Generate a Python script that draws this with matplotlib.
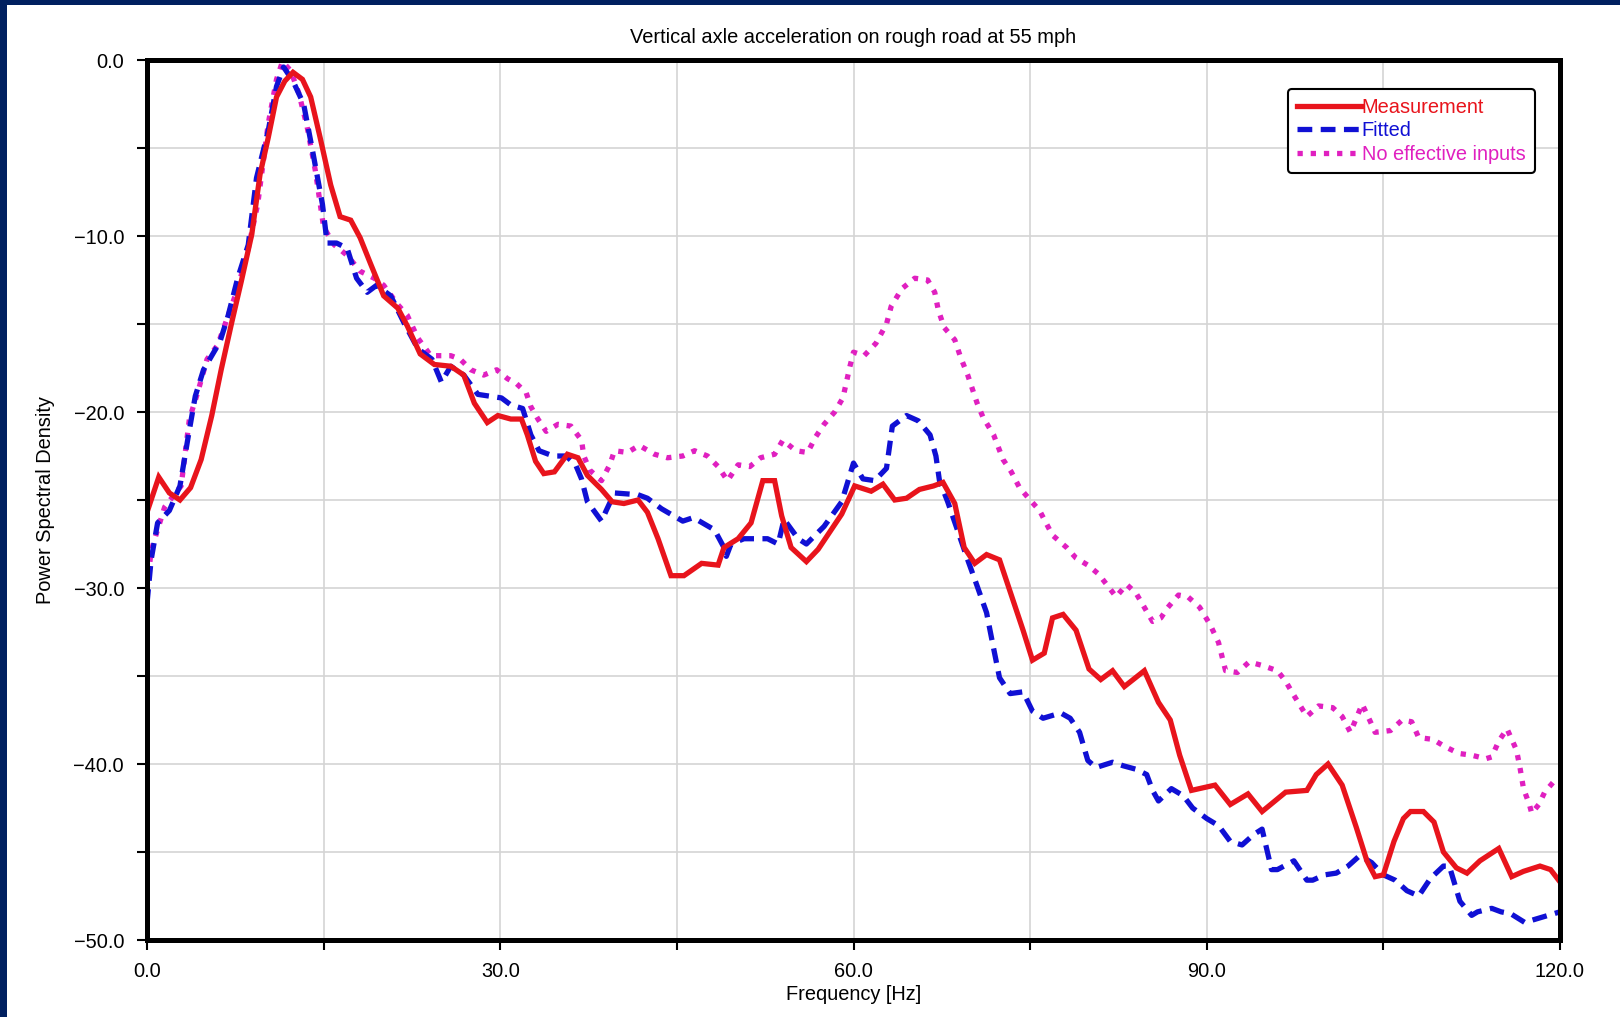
import numpy as np
import matplotlib
matplotlib.use("Agg")
import matplotlib.pyplot as plt
from matplotlib.patches import Rectangle
from matplotlib.ticker import MultipleLocator, FuncFormatter

# PSD curves (frequency in Hz, PSD in dB)
freq_meas = [0, 1.0, 1.9, 2.8, 3.7, 4.6, 5.5, 6.3, 7.2, 8.0, 8.9, 9.6, 10.3, 11.0, 11.7, 12.4,
             13.2, 13.9, 14.7, 15.6, 16.4, 17.3, 18.1, 19.0, 20.1, 21.3, 22.1, 23.2, 24.4, 25.8,
             26.9, 27.8, 28.9, 29.8, 30.9, 31.8, 32.3, 33.0, 33.7, 34.6, 35.7, 36.6, 37.4, 38.6,
             39.5, 40.5, 41.7, 42.5, 43.4, 44.5, 45.6, 47.1, 48.5, 49.0, 50.2, 51.3, 52.3, 53.3,
             53.9, 54.7, 56.0, 57.0, 59.0, 60.1, 61.5, 62.5, 63.5, 64.5, 65.6, 66.8, 67.6, 68.6,
             69.4, 70.3, 71.3, 72.4, 73.4, 74.4, 75.2, 76.2, 76.9, 77.8, 78.9, 80.0, 81.0, 82.0,
             83.0, 84.7, 85.9, 86.9, 87.7, 88.7, 90.7, 92.0, 93.5, 94.7, 96.7, 98.5, 99.3, 100.3,
             101.5, 102.7, 103.6, 104.3, 105.0, 105.9, 106.7, 107.3, 108.4, 109.3, 110.1, 111.2,
             112.1, 113.2, 114.8, 115.9, 116.9, 118.3, 119.2, 120.0]
meas_psd = [-25.7, -23.7, -24.6, -25.0, -24.3, -22.7, -20.2, -17.6, -14.9, -12.6, -9.9, -6.5, -4.4,
            -2.1, -1.2, -0.7, -1.1, -2.1, -4.4, -7.1, -8.9, -9.1, -10.1, -11.6, -13.4, -14.1,
            -15.1, -16.7, -17.3, -17.4, -17.9, -19.5, -20.6, -20.2, -20.4, -20.4, -21.3, -22.8,
            -23.5, -23.4, -22.4, -22.6, -23.6, -24.4, -25.1, -25.2, -25.0, -25.7, -27.2, -29.3,
            -29.3, -28.6, -28.7, -27.7, -27.2, -26.3, -23.9, -23.9, -25.9, -27.7, -28.5, -27.8,
            -25.8, -24.2, -24.5, -24.1, -25.0, -24.9, -24.4, -24.2, -24.0, -25.2, -27.7, -28.6,
            -28.1, -28.4, -30.4, -32.4, -34.1, -33.7, -31.7, -31.5, -32.4, -34.6, -35.2, -34.7,
            -35.6, -34.7, -36.5, -37.5, -39.5, -41.5, -41.2, -42.3, -41.7, -42.7, -41.6, -41.5,
            -40.6, -40.0, -41.2, -43.6, -45.5, -46.4, -46.3, -44.4, -43.1, -42.7, -42.7, -43.3,
            -45.0, -45.9, -46.2, -45.5, -44.8, -46.4, -46.1, -45.8, -46.0, -46.7]

freq_fit = [0, 0.35, 0.9, 1.9, 2.8, 3.5, 4.1, 4.8, 5.5, 6.2, 6.9, 7.7, 8.6, 9.3, 10.3, 11.0, 11.6,
            12.4, 13.3, 14.1, 14.9, 15.3, 16.1, 17.0, 17.8, 18.7, 19.5, 20.7, 21.8, 23.0, 24.2,
            25.0, 25.8, 26.9, 28.1, 29.1, 30.1, 30.9, 31.9, 32.6, 33.3, 34.5, 35.6, 36.4, 36.9,
            37.4, 38.6, 39.0, 39.7, 41.7, 42.5, 43.7, 45.5, 46.4, 48.2, 49.0, 49.2, 49.6, 50.7,
            52.7, 53.6, 54.1, 55.3, 56.0, 57.5, 59.0, 60.0, 60.8, 61.8, 62.8, 63.3, 64.5, 65.5,
            66.5, 67.0, 67.3, 68.0, 69.7, 70.4, 71.3, 71.8, 72.4, 73.3, 74.4, 75.2, 76.1, 77.6,
            78.4, 79.2, 79.9, 80.6, 82.0, 82.9, 84.0, 84.9, 85.4, 85.9, 87.0, 88.0, 88.8, 90.0,
            91.0, 92.0, 93.0, 94.0, 94.7, 95.5, 96.0, 97.4, 98.5, 99.0, 100.0, 101.0, 102.0, 103.0,
            104.0, 105.0, 106.0, 107.0, 108.0, 109.0, 110.1, 110.6, 111.5, 112.5, 113.0, 114.2,
            115.0, 115.8, 117.0, 118.0, 119.0, 120.0]
fit_psd = [-30.9, -28.4, -26.3, -25.6, -24.2, -21.4, -19.1, -17.6, -16.8, -16.0, -14.5, -12.4, -10.5,
           -6.7, -4.0, -1.5, -0.4, -1.2, -2.5, -5.3, -8.2, -10.4, -10.4, -10.7, -12.4, -13.2, -12.8,
           -13.4, -14.9, -16.4, -17.0, -18.3, -17.4, -17.9, -19.0, -19.1, -19.2, -19.6, -19.8,
           -21.3, -22.2, -22.5, -22.5, -23.0, -23.8, -25.1, -26.2, -25.6, -24.6, -24.7, -24.9,
           -25.5, -26.2, -26.0, -26.7, -27.7, -28.2, -27.5, -27.2, -27.2, -27.5, -26.1, -27.2,
           -27.5, -26.5, -25.1, -22.9, -23.8, -23.9, -23.2, -20.8, -20.2, -20.5, -21.3, -22.5,
           -23.9, -25.1, -28.4, -29.7, -31.4, -33.1, -35.1, -36.0, -35.9, -37.0, -37.4, -37.1,
           -37.4, -38.2, -39.8, -40.2, -39.9, -40.1, -40.3, -40.6, -41.5, -42.1, -41.4, -41.8,
           -42.5, -43.1, -43.5, -44.4, -44.6, -44.0, -43.7, -46.0, -46.0, -45.5, -46.6, -46.6,
           -46.3, -46.2, -45.8, -45.2, -45.6, -46.3, -46.6, -47.2, -47.5, -46.5, -45.8, -45.8,
           -47.8, -48.6, -48.4, -48.2, -48.4, -48.5, -49.0, -48.8, -48.6, -48.4]

freq_noin = [0, 0.35, 0.8, 1.5, 2.9, 3.6, 4.3, 5.1, 6.0, 6.8, 7.7, 8.6, 9.4, 10.3, 11.0, 11.5, 12.2,
             12.9, 13.6, 14.3, 15.0, 15.9, 17.0, 18.1, 19.3, 20.1, 21.3, 22.1, 23.0, 24.1, 25.8,
             26.6, 27.5, 28.6, 29.7, 30.6, 31.4, 32.2, 32.6, 33.2, 33.9, 34.9, 36.0, 36.9, 37.1,
             37.6, 38.6, 39.3, 39.7, 40.8, 41.8, 43.1, 44.2, 45.5, 46.5, 47.6, 48.5, 49.3, 50.2,
             51.2, 52.1, 53.3, 54.0, 55.1, 56.1, 56.8, 57.5, 58.4, 59.1, 59.4, 59.7, 60.0, 60.9,
             61.9, 62.8, 63.2, 64.1, 65.2, 66.3, 66.9, 67.2, 67.7, 68.6, 69.1, 69.7, 70.5, 71.0,
             71.9, 72.7, 73.4, 74.1, 75.0, 75.8, 76.9, 78.1, 78.9, 79.9, 80.8, 81.5, 82.3, 83.2,
             84.0, 84.7, 85.4, 86.1, 86.7, 87.6, 88.4, 89.4, 90.3, 91.0, 91.6, 92.6, 93.6, 94.7,
             96.0, 96.7, 97.4, 98.5, 99.5, 100.7, 101.5, 102.2, 103.2, 103.9, 104.3, 105.6, 106.6,
             107.4, 108.0, 109.2, 110.2, 111.4, 112.5, 113.7, 114.2, 114.8, 115.5, 116.3, 116.6,
             116.9, 117.4, 117.6, 118.2, 118.7, 119.6, 120.0]
noin_psd = [-30.0, -27.9, -26.9, -25.4, -24.2, -20.4, -18.9, -17.0, -16.2, -14.7, -13.0, -10.7, -8.2,
            -3.6, -1.1, -0.1, -0.6, -1.9, -3.8, -6.3, -9.5, -10.5, -11.1, -12.0, -12.4, -12.8,
            -13.9, -14.5, -15.8, -16.8, -16.8, -17.0, -17.6, -17.9, -17.6, -18.1, -18.4, -18.9,
            -19.7, -20.4, -21.1, -20.7, -20.8, -21.6, -22.5, -23.3, -23.9, -23.0, -22.2, -22.3,
            -21.9, -22.4, -22.6, -22.5, -22.2, -22.5, -23.1, -23.9, -23.0, -23.1, -22.6, -22.4,
            -21.6, -22.2, -22.3, -21.4, -20.7, -20.0, -19.2, -18.3, -17.4, -16.6, -16.8, -16.1,
            -15.0, -14.0, -13.0, -12.4, -12.5, -13.2, -14.2, -15.2, -15.9, -16.9, -17.9, -19.5,
            -20.3, -21.3, -22.7, -23.4, -24.3, -25.0, -25.6, -27.0, -27.7, -28.3, -28.7, -29.2,
            -29.8, -30.5, -29.8, -30.3, -31.1, -31.9, -31.7, -31.1, -30.4, -30.5, -31.1, -32.1,
            -33.1, -34.7, -34.8, -34.2, -34.4, -34.7, -35.3, -36.1, -37.3, -36.7, -36.8, -37.3,
            -38.2, -36.6, -37.6, -38.2, -38.1, -37.5, -37.6, -38.5, -38.6, -39.0, -39.4, -39.5,
            -39.7, -39.6, -38.7, -38.0, -39.2, -40.2, -41.4, -42.3, -42.8, -42.3, -41.6, -40.9,
            -40.8]

series_labels = ["Measurement", "Fitted", "No effective inputs"]
series_colors = ["#e8141c", "#1010d4", "#e020c0"]

plt.rcParams['font.family'] = ['Liberation Sans', 'DejaVu Sans']
FS = 14.4

fig = plt.figure(figsize=(16.2, 10.17), dpi=100, facecolor="#002060")
# white canvas, leaving the thin navy frame on the left and top
fig.patches.append(Rectangle((7 / 1620, 0), 1 - 7 / 1620, 1 - 5 / 1017,
                             transform=fig.transFigure, facecolor="white",
                             edgecolor="none", zorder=-10))

ax = fig.add_axes([147 / 1620, 77 / 1017, 1413 / 1620, 880 / 1017])
ax.set_facecolor("white")

lw = 3.8
l3, = ax.plot(freq_noin, noin_psd, color=series_colors[2], lw=lw, linestyle=(0, (1.0, 1.5)))
l2, = ax.plot(freq_fit, fit_psd, color=series_colors[1], lw=lw, linestyle=(0, (2.8, 1.6)))
l1, = ax.plot(freq_meas, meas_psd, color=series_colors[0], lw=lw, solid_joinstyle="miter")

ax.set_xlim(0, 120)
ax.set_ylim(-50, 0)
ax.xaxis.set_major_locator(MultipleLocator(30))
ax.xaxis.set_minor_locator(MultipleLocator(15))
ax.yaxis.set_major_locator(MultipleLocator(10))
ax.yaxis.set_minor_locator(MultipleLocator(5))
fmt = FuncFormatter(lambda v, p: f"{v:.1f}".replace("-", "\u2212"))
ax.xaxis.set_major_formatter(fmt)
ax.yaxis.set_major_formatter(fmt)

ax.grid(which="both", color="#d4d4d4", lw=1.2)
ax.set_axisbelow(True)
ax.tick_params(which="both", direction="out", length=7.5, width=1.5, color="black",
               top=False, right=False)
ax.tick_params(axis="x", which="major", labelsize=FS, pad=8)
ax.tick_params(axis="y", which="major", labelsize=FS, pad=9)
for sp in ax.spines.values():
    sp.set_linewidth(3.6)
    sp.set_color("black")

ax.set_title("Vertical axle acceleration on rough road at 55 mph", fontsize=FS, pad=12)
ax.set_xlabel("Frequency [Hz]", fontsize=FS, va="center")
ax.xaxis.set_label_coords(0.5, -0.0614)
ax.set_ylabel("Power Spectral Density", fontsize=FS, va="center")
ax.yaxis.set_label_coords(-0.0715, 0.5)

leg = ax.legend([l1, l2, l3], series_labels, loc="upper right",
                bbox_to_anchor=(0.982, 0.967), borderaxespad=0, fontsize=FS,
                handlelength=3.2, handletextpad=0.05, labelspacing=0.22,
                borderpad=0.45, fancybox=True, framealpha=1, edgecolor="black")
leg.get_frame().set_linewidth(1.5)
for txt, c in zip(leg.get_texts(), series_colors):
    txt.set_color(c)

fig.savefig("out.png", dpi=100, facecolor=fig.get_facecolor())
